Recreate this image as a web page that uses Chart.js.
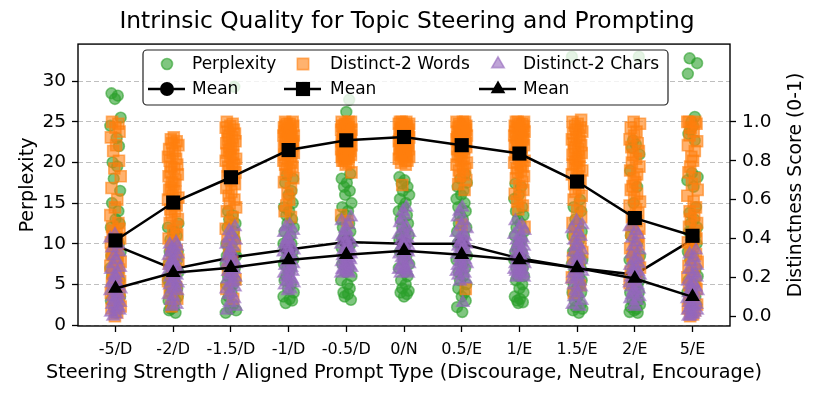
<!DOCTYPE html>
<html>
<head>
<meta charset="utf-8">
<script src="https://cdn.jsdelivr.net/npm/chart.js@4.4.0/dist/chart.umd.min.js"></script>
<style>
  html, body { margin: 0; padding: 0; background: #fff; }
  #wrap { width: 814px; height: 397px; }
</style>
</head>
<body>
<div id="wrap"><canvas id="qualityChart" width="814" height="397"></canvas></div>
<script>
// x categories (steering strength / prompt type)
const categories = ['-5/D', '-2/D', '-1.5/D', '-1/D', '-0.5/D', '0/N', '0.5/E', '1/E', '1.5/E', '2/E', '5/E'];

// tick labels
const perplexityTicks = [0, 5, 10, 15, 20, 25, 30];
const distinctTicks = [0, 0.2, 0.4, 0.6, 0.8, 1.0];

// means per category
const perplexityMean = [9.8, 6.9, 8.3, 9.3, 10.2, 10.0, 10.0, 8.2, 7.0, 6.2, 10.5];
const wordsMean = [0.39, 0.585, 0.715, 0.855, 0.905, 0.922, 0.88, 0.837, 0.693, 0.505, 0.414];
const charsMean = [0.143, 0.224, 0.25, 0.29, 0.316, 0.337, 0.316, 0.289, 0.248, 0.194, 0.10];

// individual samples, one list per category
const perplexityValues = [
  [28.5, 28.2, 27.8, 25.5, 24.5, 23.0, 22.0, 20.0, 19.5, 18.0, 16.5, 15.0, 14.0, 13.0, 12.5, 12.0, 11.0, 10.5, 10.0, 9.5, 9.0, 8.5, 8.0, 7.5, 7.0, 6.5, 6.0, 5.5, 5.0, 4.5, 4.0, 3.5, 3.0, 2.5, 2.0, 1.5],
  [12.5, 12.0, 11.5, 11.0, 10.5, 10.0, 9.5, 9.0, 9.0, 8.5, 8.0, 8.0, 7.5, 7.5, 7.0, 7.0, 6.5, 6.5, 6.0, 6.0, 5.5, 5.5, 5.0, 5.0, 4.5, 4.5, 4.0, 4.0, 3.5, 3.0, 3.0, 2.5, 2.2, 2.0, 1.8, 1.5],
  [29.3, 14.0, 13.5, 13.0, 12.5, 12.0, 11.5, 11.0, 10.5, 10.0, 10.0, 9.5, 9.0, 9.0, 8.5, 8.5, 8.0, 8.0, 7.5, 7.5, 7.0, 7.0, 6.5, 6.0, 6.0, 5.5, 5.0, 5.0, 4.5, 4.0, 3.5, 3.0, 2.5, 2.0, 1.8, 1.5],
  [18.5, 18.0, 17.5, 16.5, 16.0, 15.0, 14.5, 14.0, 13.5, 13.0, 12.5, 12.0, 11.5, 11.0, 10.5, 10.0, 10.0, 9.5, 9.0, 9.0, 8.5, 8.0, 8.0, 7.5, 7.0, 7.0, 6.5, 6.0, 5.5, 5.0, 4.5, 4.0, 3.5, 3.2, 3.0, 2.7],
  [27.7, 26.2, 18.6, 18.0, 17.5, 17.0, 16.5, 16.0, 15.0, 14.5, 14.0, 13.5, 13.0, 12.5, 12.0, 11.5, 11.0, 10.5, 10.5, 10.0, 9.5, 9.5, 9.0, 8.5, 8.0, 7.5, 7.0, 6.5, 6.0, 5.5, 5.0, 4.5, 4.0, 3.8, 3.5, 3.1],
  [18.2, 17.8, 17.4, 17.0, 16.5, 16.0, 15.5, 15.0, 14.5, 14.0, 13.5, 13.0, 12.5, 12.0, 11.5, 11.0, 11.0, 10.5, 10.0, 10.0, 9.5, 9.0, 9.0, 8.5, 8.0, 7.5, 7.0, 6.5, 6.0, 5.5, 5.0, 4.5, 4.2, 4.0, 3.8, 3.5],
  [18.6, 18.0, 17.5, 17.0, 16.5, 16.0, 15.5, 15.0, 14.5, 14.0, 13.5, 13.0, 12.5, 12.0, 11.5, 11.0, 10.5, 10.5, 10.0, 10.0, 9.5, 9.0, 8.5, 8.0, 7.5, 7.0, 6.5, 6.0, 5.5, 5.0, 4.5, 4.0, 3.5, 3.0, 2.2, 1.6],
  [17.4, 17.0, 16.0, 15.5, 14.5, 14.0, 13.5, 13.0, 12.5, 12.0, 11.5, 11.0, 10.5, 10.0, 10.0, 9.5, 9.0, 9.0, 8.5, 8.0, 8.0, 7.5, 7.0, 7.0, 6.5, 6.0, 6.0, 5.5, 5.0, 4.5, 4.0, 3.5, 3.2, 3.0, 2.8, 2.7],
  [33.0, 15.4, 14.5, 14.0, 13.0, 12.5, 12.0, 11.5, 11.0, 10.5, 10.0, 9.5, 9.0, 9.0, 8.5, 8.0, 8.0, 7.5, 7.0, 7.0, 6.5, 6.0, 6.0, 5.5, 5.0, 5.0, 4.5, 4.0, 4.0, 3.5, 3.0, 2.5, 2.2, 2.0, 1.8, 1.5],
  [33.0, 22.7, 22.2, 21.8, 21.0, 19.0, 17.0, 15.0, 13.0, 12.0, 11.0, 10.0, 9.0, 8.5, 8.0, 7.5, 7.0, 6.5, 6.0, 6.0, 5.5, 5.0, 5.0, 4.5, 4.0, 4.0, 3.5, 3.0, 3.0, 2.5, 2.5, 2.2, 2.0, 1.8, 1.6, 1.5],
  [32.8, 32.2, 30.9, 25.6, 25.0, 24.5, 24.0, 23.5, 22.7, 18.7, 18.2, 17.8, 17.0, 14.5, 13.8, 13.0, 12.5, 12.0, 11.5, 11.0, 10.5, 10.0, 9.0, 8.5, 8.0, 7.0, 6.5, 6.0, 5.5, 5.0, 4.5, 4.0, 3.5, 3.0, 2.5, 2.0]
];

const wordsValues = [
  [1.0, 0.99, 0.97, 0.95, 0.92, 0.88, 0.85, 0.80, 0.76, 0.72, 0.66, 0.60, 0.56, 0.52, 0.48, 0.46, 0.45, 0.44, 0.42, 0.41, 0.40, 0.38, 0.37, 0.36, 0.34, 0.33, 0.32, 0.30, 0.29, 0.28, 0.26, 0.25, 0.24, 0.22, 0.21, 0.20, 0.18, 0.17, 0.16, 0.14, 0.13, 0.12, 0.10, 0.09, 0.08, 0.06, 0.05, 0.04, 0.02, 0.0],
  [0.92, 0.91, 0.90, 0.89, 0.88, 0.86, 0.85, 0.84, 0.82, 0.81, 0.80, 0.78, 0.77, 0.76, 0.74, 0.73, 0.72, 0.70, 0.69, 0.68, 0.66, 0.65, 0.64, 0.62, 0.61, 0.60, 0.58, 0.57, 0.55, 0.54, 0.52, 0.50, 0.48, 0.46, 0.44, 0.42, 0.40, 0.38, 0.36, 0.34, 0.32, 0.29, 0.27, 0.24, 0.21, 0.18, 0.15, 0.12, 0.09, 0.05],
  [1.0, 0.99, 0.98, 0.97, 0.96, 0.95, 0.94, 0.93, 0.92, 0.91, 0.90, 0.89, 0.88, 0.87, 0.86, 0.85, 0.84, 0.83, 0.82, 0.81, 0.80, 0.79, 0.78, 0.77, 0.76, 0.75, 0.74, 0.72, 0.71, 0.70, 0.68, 0.66, 0.64, 0.62, 0.60, 0.58, 0.56, 0.54, 0.51, 0.48, 0.45, 0.42, 0.39, 0.36, 0.32, 0.28, 0.24, 0.19, 0.14, 0.09],
  [1.0, 1.0, 0.99, 0.99, 0.98, 0.98, 0.97, 0.97, 0.96, 0.96, 0.95, 0.95, 0.94, 0.94, 0.93, 0.93, 0.92, 0.92, 0.91, 0.91, 0.90, 0.90, 0.89, 0.89, 0.88, 0.88, 0.87, 0.86, 0.86, 0.85, 0.84, 0.84, 0.83, 0.82, 0.81, 0.80, 0.79, 0.78, 0.77, 0.76, 0.75, 0.73, 0.71, 0.69, 0.66, 0.63, 0.60, 0.57, 0.54, 0.51],
  [1.0, 1.0, 1.0, 0.99, 0.99, 0.98, 0.98, 0.97, 0.97, 0.96, 0.96, 0.95, 0.95, 0.94, 0.94, 0.93, 0.93, 0.92, 0.92, 0.91, 0.91, 0.90, 0.90, 0.90, 0.89, 0.89, 0.88, 0.88, 0.87, 0.87, 0.86, 0.86, 0.85, 0.85, 0.84, 0.84, 0.83, 0.83, 0.82, 0.82, 0.81, 0.81, 0.80, 0.80, 0.79, 0.78, 0.74, 0.52, 0.49],
  [1.0, 1.0, 1.0, 0.99, 0.99, 0.99, 0.98, 0.98, 0.97, 0.97, 0.97, 0.96, 0.96, 0.95, 0.95, 0.94, 0.94, 0.94, 0.93, 0.93, 0.92, 0.92, 0.91, 0.91, 0.90, 0.90, 0.89, 0.89, 0.88, 0.88, 0.87, 0.87, 0.86, 0.86, 0.85, 0.85, 0.84, 0.84, 0.83, 0.83, 0.82, 0.82, 0.81, 0.80, 0.80, 0.79, 0.78, 0.675],
  [1.0, 1.0, 1.0, 0.99, 0.99, 0.98, 0.98, 0.97, 0.97, 0.96, 0.96, 0.95, 0.95, 0.94, 0.94, 0.93, 0.93, 0.92, 0.92, 0.91, 0.91, 0.90, 0.90, 0.89, 0.89, 0.88, 0.88, 0.87, 0.86, 0.86, 0.85, 0.84, 0.83, 0.82, 0.81, 0.80, 0.79, 0.78, 0.77, 0.76, 0.75, 0.73, 0.72, 0.70, 0.68, 0.65, 0.47, 0.14],
  [1.0, 1.0, 1.0, 0.99, 0.99, 0.98, 0.98, 0.97, 0.97, 0.96, 0.96, 0.95, 0.95, 0.94, 0.93, 0.93, 0.92, 0.92, 0.91, 0.90, 0.90, 0.89, 0.88, 0.88, 0.87, 0.86, 0.85, 0.84, 0.83, 0.82, 0.81, 0.80, 0.79, 0.78, 0.77, 0.76, 0.75, 0.74, 0.72, 0.71, 0.69, 0.67, 0.65, 0.63, 0.61, 0.59, 0.57, 0.55, 0.46],
  [1.01, 1.0, 0.99, 0.98, 0.97, 0.96, 0.95, 0.94, 0.93, 0.92, 0.91, 0.90, 0.89, 0.88, 0.87, 0.86, 0.85, 0.84, 0.83, 0.82, 0.81, 0.80, 0.79, 0.78, 0.77, 0.76, 0.75, 0.73, 0.72, 0.70, 0.68, 0.66, 0.64, 0.62, 0.60, 0.57, 0.54, 0.51, 0.48, 0.45, 0.42, 0.39, 0.36, 0.33, 0.30, 0.27, 0.24, 0.20, 0.16, 0.12],
  [1.0, 0.99, 0.97, 0.95, 0.93, 0.91, 0.89, 0.87, 0.85, 0.83, 0.81, 0.79, 0.77, 0.75, 0.73, 0.71, 0.69, 0.67, 0.65, 0.63, 0.61, 0.59, 0.57, 0.55, 0.53, 0.51, 0.49, 0.47, 0.45, 0.43, 0.41, 0.39, 0.37, 0.35, 0.33, 0.31, 0.29, 0.27, 0.25, 0.23, 0.21, 0.19, 0.17],
  [1.0, 1.0, 1.0, 0.99, 0.97, 0.95, 0.93, 0.90, 0.88, 0.85, 0.82, 0.80, 0.77, 0.74, 0.71, 0.68, 0.65, 0.62, 0.59, 0.56, 0.54, 0.52, 0.50, 0.48, 0.46, 0.44, 0.42, 0.40, 0.38, 0.36, 0.34, 0.32, 0.30, 0.28, 0.26, 0.24, 0.22, 0.20, 0.18, 0.16, 0.14, 0.12, 0.10, 0.08, 0.06, 0.04, 0.03, 0.02, 0.01, 0.0]
];

const charsValues = [
  [0.42, 0.40, 0.37, 0.35, 0.33, 0.31, 0.29, 0.27, 0.25, 0.24, 0.22, 0.21, 0.20, 0.18, 0.17, 0.16, 0.15, 0.14, 0.13, 0.12, 0.11, 0.10, 0.09, 0.08, 0.07, 0.06, 0.05, 0.04, 0.03, 0.02, 0.01, 0.0],
  [0.38, 0.37, 0.36, 0.35, 0.34, 0.33, 0.32, 0.31, 0.30, 0.29, 0.28, 0.27, 0.26, 0.25, 0.25, 0.24, 0.23, 0.22, 0.21, 0.20, 0.19, 0.18, 0.17, 0.16, 0.15, 0.14, 0.13, 0.11, 0.10, 0.08, 0.06, 0.05],
  [0.46, 0.44, 0.42, 0.40, 0.39, 0.37, 0.36, 0.34, 0.33, 0.32, 0.30, 0.29, 0.28, 0.27, 0.26, 0.25, 0.24, 0.23, 0.22, 0.21, 0.20, 0.19, 0.18, 0.17, 0.15, 0.14, 0.12, 0.11, 0.09, 0.07, 0.05, 0.03],
  [0.47, 0.46, 0.44, 0.43, 0.42, 0.40, 0.39, 0.38, 0.37, 0.36, 0.35, 0.34, 0.33, 0.32, 0.31, 0.30, 0.29, 0.28, 0.27, 0.26, 0.25, 0.24, 0.23, 0.22, 0.21, 0.20, 0.19, 0.18, 0.17, 0.16, 0.14, 0.13],
  [0.51, 0.49, 0.47, 0.45, 0.44, 0.42, 0.41, 0.40, 0.39, 0.38, 0.37, 0.36, 0.35, 0.34, 0.33, 0.33, 0.32, 0.31, 0.30, 0.30, 0.29, 0.28, 0.27, 0.27, 0.26, 0.25, 0.25, 0.24, 0.23, 0.23, 0.22, 0.22],
  [0.56, 0.54, 0.52, 0.50, 0.48, 0.46, 0.45, 0.43, 0.42, 0.41, 0.40, 0.39, 0.38, 0.37, 0.36, 0.35, 0.34, 0.34, 0.33, 0.32, 0.31, 0.30, 0.29, 0.28, 0.27, 0.26, 0.25, 0.24, 0.24, 0.23, 0.22, 0.22],
  [0.56, 0.54, 0.51, 0.49, 0.47, 0.45, 0.43, 0.42, 0.41, 0.40, 0.39, 0.38, 0.37, 0.36, 0.35, 0.34, 0.33, 0.32, 0.31, 0.30, 0.29, 0.28, 0.27, 0.26, 0.25, 0.24, 0.23, 0.22, 0.21, 0.19, 0.18, 0.07],
  [0.49, 0.47, 0.45, 0.44, 0.42, 0.41, 0.40, 0.39, 0.38, 0.37, 0.36, 0.35, 0.34, 0.33, 0.32, 0.31, 0.30, 0.30, 0.29, 0.28, 0.27, 0.27, 0.26, 0.25, 0.24, 0.24, 0.23, 0.22, 0.22, 0.21, 0.20, 0.20],
  [0.49, 0.47, 0.45, 0.43, 0.41, 0.39, 0.37, 0.36, 0.34, 0.33, 0.31, 0.30, 0.29, 0.28, 0.27, 0.26, 0.25, 0.24, 0.23, 0.22, 0.21, 0.20, 0.19, 0.18, 0.16, 0.15, 0.13, 0.12, 0.10, 0.08, 0.06, 0.05],
  [0.46, 0.44, 0.42, 0.40, 0.38, 0.36, 0.34, 0.32, 0.30, 0.29, 0.27, 0.26, 0.25, 0.24, 0.23, 0.22, 0.21, 0.20, 0.19, 0.18, 0.17, 0.16, 0.15, 0.14, 0.13, 0.12, 0.11, 0.10, 0.09, 0.08, 0.06, 0.05],
  [0.34, 0.32, 0.30, 0.28, 0.26, 0.24, 0.22, 0.21, 0.20, 0.18, 0.17, 0.16, 0.15, 0.14, 0.13, 0.12, 0.11, 0.10, 0.09, 0.08, 0.07, 0.06, 0.06, 0.05, 0.04, 0.03, 0.03, 0.02, 0.01, 0.01, 0.0, 0.0]
];

// fixed horizontal spread of the strips (in category units)
const jitter = [-0.07, 0.04, -0.01, 0.09, -0.09, 0.02, 0.06, -0.05, 0.03, -0.03, 0.08, -0.06, 0.05, 0.00, 0.07, -0.08, 0.01, -0.04, 0.06,
                -0.02, 0.09, -0.07, 0.03, -0.01, -0.09, 0.05, -0.06, 0.07, -0.03, 0.02, -0.05, 0.08, -0.08, 0.04, -0.02, 0.01, -0.04];

const GREEN = 'rgba(44, 160, 44, 0.6)';
const ORANGE = 'rgba(255, 127, 14, 0.6)';
const PURPLE = 'rgba(148, 103, 189, 0.6)';
const FONT = '"DejaVu Sans", "Liberation Sans", sans-serif';

function stripPoints(columns, shift, step) {
    const pts = [];
    columns.forEach((vals, i) => {
        vals.forEach((v, j) => {
            pts.push({ x: i + jitter[(j + shift + step * i) % jitter.length], y: v });
        });
    });
    return pts;
}

function meanPoints(means) {
    return means.map((v, i) => ({ x: i, y: v }));
}

// frame, axis labels wider than the plot, and the matplotlib-like legend
const framePlugin = {
    id: 'frameAndLegend',
    afterDatasetsDraw(chart) {
        const { ctx, chartArea: a } = chart;
        ctx.save();
        ctx.strokeStyle = '#000';
        ctx.lineWidth = 1.4;
        ctx.strokeRect(a.left, a.top, a.right - a.left, a.bottom - a.top);

        ctx.fillStyle = '#000';
        ctx.textAlign = 'center';
        ctx.textBaseline = 'middle';

        // x axis title (longer than the axis itself)
        ctx.font = '19.3px ' + FONT;
        ctx.fillText('Steering Strength / Aligned Prompt Type (Discourage, Neutral, Encourage)', (a.left + a.right) / 2, 373);

        // right axis title, reading bottom-to-top
        ctx.save();
        ctx.translate(796, (a.top + a.bottom) / 2);
        ctx.rotate(-Math.PI / 2);
        ctx.font = '18.8px ' + FONT;
        ctx.fillText('Distinctness Score (0-1)', 0, 0);
        ctx.restore();

        // legend box
        const bx = 143, by = 50, bw = 525, bh = 55, r = 4;
        ctx.beginPath();
        ctx.moveTo(bx + r, by);
        ctx.arcTo(bx + bw, by, bx + bw, by + bh, r);
        ctx.arcTo(bx + bw, by + bh, bx, by + bh, r);
        ctx.arcTo(bx, by + bh, bx, by, r);
        ctx.arcTo(bx, by, bx + bw, by, r);
        ctx.closePath();
        ctx.fillStyle = 'rgba(255,255,255,0.8)';
        ctx.fill();
        ctx.strokeStyle = '#222';
        ctx.lineWidth = 1.2;
        ctx.stroke();

        const row1 = 64, row2 = 89;
        const cols = [
            { mx: 167, tx: 192, label: 'Perplexity', style: 'circle', color: GREEN, r: 5.5 },
            { mx: 303, tx: 330, label: 'Distinct-2 Words', style: 'rect', color: ORANGE, r: 8 },
            { mx: 498, tx: 523, label: 'Distinct-2 Chars', style: 'triangle', color: PURPLE, r: 7.2 }
        ];
        const meanR = { circle: 7, rect: 10, triangle: 8.5 };
        ctx.font = '17px ' + FONT;
        ctx.textBaseline = 'middle';
        ctx.textAlign = 'left';
        cols.forEach(c => {
            ctx.fillStyle = c.color;
            ctx.strokeStyle = c.color;
            ctx.lineWidth = 1.6;
            Chart.helpers.drawPoint(ctx, { pointStyle: c.style, radius: c.r, borderWidth: 1.6 }, c.mx, row1);
            ctx.fillStyle = '#000';
            ctx.fillText(c.label, c.tx, row1 + 1);

            ctx.beginPath();
            ctx.moveTo(c.mx - 19, row2);
            ctx.lineTo(c.mx + 18, row2);
            ctx.strokeStyle = '#000';
            ctx.lineWidth = 2.5;
            ctx.stroke();
            ctx.fillStyle = '#000';
            Chart.helpers.drawPoint(ctx, { pointStyle: c.style, radius: meanR[c.style], borderWidth: 0 }, c.mx, row2);
            ctx.fillText('Mean', c.tx, row2 + 1);
        });
        ctx.restore();
    }
};

Chart.defaults.font.family = FONT;
Chart.defaults.color = '#000';

new Chart(document.getElementById('qualityChart'), {
    type: 'scatter',
    data: {
        datasets: [
            {
                label: 'Perplexity', data: stripPoints(perplexityValues, 0, 3), yAxisID: 'y',
                pointStyle: 'circle', pointRadius: 5.4, backgroundColor: GREEN,
                borderColor: GREEN, borderWidth: 1.6, order: 6
            },
            {
                label: 'Mean', type: 'line', data: meanPoints(perplexityMean), yAxisID: 'y',
                borderColor: '#000', borderWidth: 2.5, pointStyle: 'circle', pointRadius: 7,
                pointBackgroundColor: '#000', pointBorderWidth: 0, order: 5
            },
            {
                label: 'Distinct-2 Words', data: stripPoints(wordsValues, 11, 5), yAxisID: 'y2',
                pointStyle: 'rect', pointRadius: 7.8, backgroundColor: ORANGE,
                borderColor: ORANGE, borderWidth: 1.6, order: 4
            },
            {
                label: 'Distinct-2 Chars', data: stripPoints(charsValues, 23, 2), yAxisID: 'y2',
                pointStyle: 'triangle', pointRadius: 7.1, backgroundColor: PURPLE,
                borderColor: PURPLE, borderWidth: 1.6, order: 3
            },
            {
                label: 'Mean', type: 'line', data: meanPoints(wordsMean), yAxisID: 'y2',
                borderColor: '#000', borderWidth: 2.5, pointStyle: 'rect', pointRadius: 10,
                pointBackgroundColor: '#000', pointBorderWidth: 0, order: 2
            },
            {
                label: 'Mean', type: 'line', data: meanPoints(charsMean), yAxisID: 'y2',
                borderColor: '#000', borderWidth: 2.5, pointStyle: 'triangle', pointRadius: 8.5,
                pointBackgroundColor: '#000', pointBorderWidth: 0, order: 1
            }
        ]
    },
    options: {
        responsive: false,
        devicePixelRatio: 1,
        animation: false,
        events: [],
        layout: { padding: 0 },
        plugins: {
            legend: { display: false },
            tooltip: { enabled: false },
            title: {
                display: true,
                text: 'Intrinsic Quality for Topic Steering and Prompting',
                font: { size: 23.4, weight: 'normal' },
                color: '#000',
                padding: { top: 8, bottom: 8 }
            }
        },
        scales: {
            x: {
                type: 'linear',
                min: -0.65,
                max: 10.65,
                afterBuildTicks: scale => { scale.ticks = categories.map((c, i) => ({ value: i })); },
                afterFit: scale => { scale.height = 71; },
                ticks: {
                    callback: v => categories[v],
                    font: { size: 16 },
                    padding: 8,
                    maxRotation: 0,
                    autoSkip: false
                },
                grid: { drawOnChartArea: false, drawTicks: true, tickLength: 6, tickColor: '#000', tickWidth: 1.3 },
                border: { display: false },
                title: { display: false }
            },
            y: {
                position: 'left',
                min: -0.12,
                max: 34.55,
                afterBuildTicks: scale => { scale.ticks = perplexityTicks.map(v => ({ value: v })); },
                afterFit: scale => { scale.width = 78; },
                ticks: { font: { size: 18.5 }, padding: 6, callback: v => String(v) },
                grid: {
                    color: 'rgba(170,170,170,0.75)', lineWidth: 1,
                    drawTicks: true, tickLength: 6, tickColor: '#000', tickWidth: 1.3
                },
                border: { display: false, dash: [5, 3] },
                title: { display: true, text: 'Perplexity', font: { size: 19.2 }, padding: { top: 16, bottom: 0 } }
            },
            y2: {
                position: 'right',
                min: -0.05,
                max: 1.4,
                afterBuildTicks: scale => { scale.ticks = distinctTicks.map(v => ({ value: v })); },
                afterFit: scale => { scale.width = 84; },
                ticks: { font: { size: 18.5 }, padding: 6, callback: v => v.toFixed(1) },
                grid: { drawOnChartArea: false, drawTicks: true, tickLength: 6, tickColor: '#000', tickWidth: 1.3 },
                border: { display: false },
                title: { display: false }
            }
        }
    },
    plugins: [framePlugin]
});
</script>
</body>
</html>
